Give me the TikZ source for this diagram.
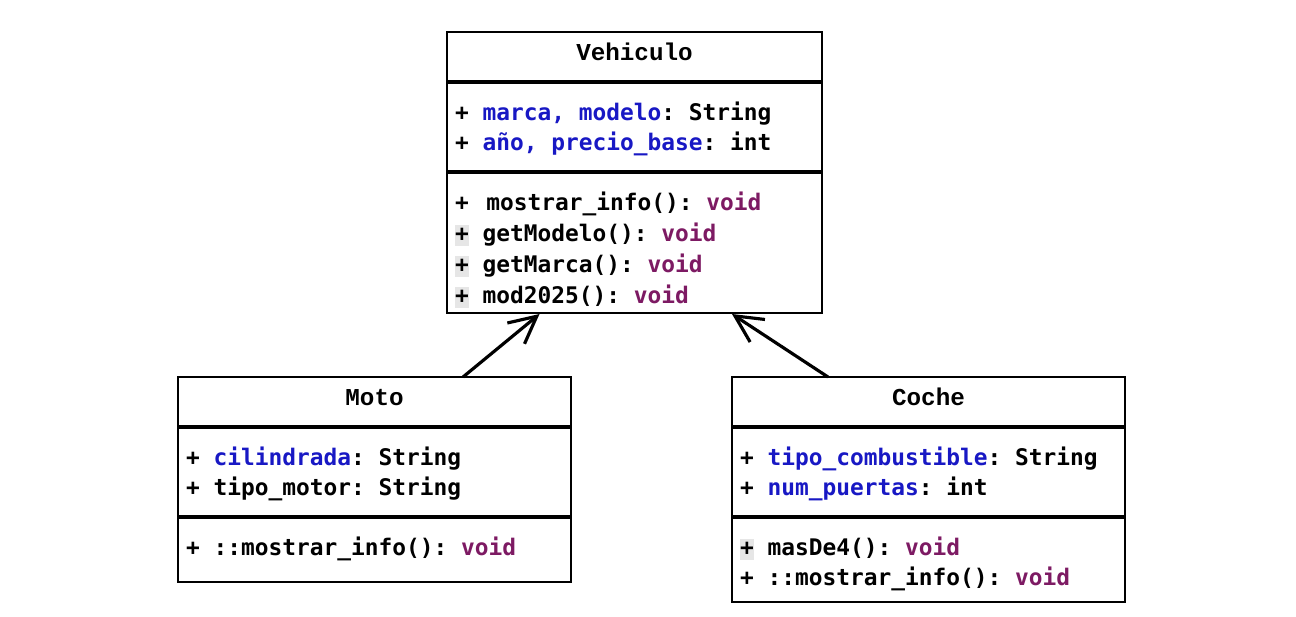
\documentclass[tikz,border=0pt]{standalone}
\usepackage{fontspec}
\setmonofont{DejaVu Sans Mono}
\newfontfamily\umlhead{Liberation Mono}
\usetikzlibrary{arrows.meta,positioning}
\definecolor{umlInk}{HTML}{000000}
\definecolor{umlBlue}{HTML}{1818C4}
\definecolor{umlVoid}{HTML}{7D1A63}
\definecolor{umlMark}{HTML}{E6E6E6}
\newcommand{\fld}[1]{\textcolor{umlBlue}{#1}}
\newcommand{\vd}{\textcolor{umlVoid}{void}}
\newcommand{\hplus}{{\setlength{\fboxsep}{0pt}\colorbox{umlMark}{\rule[-3pt]{0pt}{12pt}+}}}
% first line sits 0.76cm below the top of a compartment
\newcommand{\toprow}{\rule{0pt}{0.76cm}}
\newcommand{\lastrow}[1]{\rule[-#1]{0pt}{0pt}}

\begin{document}
\begin{tikzpicture}[
  head/.style={draw=umlInk,line width=1.1pt,outer sep=0pt,inner sep=0pt,
               minimum width=7.5cm,text height=0.56cm,text depth=0.44cm,
               font=\umlhead\bfseries\fontsize{13.8}{17}\selectfont},
  part/.style={draw=umlInk,line width=1.1pt,outer sep=0pt,inner xsep=0.16cm,inner ysep=0pt,
               text width=7.18cm,align=flush left,
               font=\ttfamily\bfseries\fontsize{13}{0.6cm}\selectfont,
               execute at begin node={\spaceskip=0.602em\relax}},
  wide/.style={minimum width=7.86cm},
  widepart/.style={text width=7.54cm},
  sep/.style={umlInk,line width=2pt},
  gen/.style={-{Straight Barb[length=5.4mm,width=5.4mm]},line width=1.8pt,umlInk}
]
\useasboundingbox (0,0) rectangle (25.92,-12.32);

% Vehiculo
\node[head,anchor=north] (veh) at (12.69,-0.64) {Vehiculo};
\node[part,below=0pt of veh] (vehAttr)
  {\toprow+ \fld{marca, modelo}: String\\+ \fld{año, precio\_base}: int\lastrow{0.44cm}};
\node[part,below=0pt of vehAttr,font=\ttfamily\bfseries\fontsize{13}{0.62cm}\selectfont] (vehMeth)
  {\toprow+ \,mostrar\_info(): \vd\\\hplus{} getModelo(): \vd\\\hplus{} getMarca(): \vd\\\hplus{} mod2025(): \vd\lastrow{0.2cm}};
\draw[sep] (vehAttr.north west) -- (vehAttr.north east);
\draw[sep] (vehMeth.north west) -- (vehMeth.north east);

% Moto
\node[head,wide,anchor=north] (moto) at (7.49,-7.54) {Moto};
\node[part,widepart,below=0pt of moto] (motoAttr)
  {\toprow+ \fld{cilindrada}: String\\+ tipo\_motor: String\lastrow{0.44cm}};
\node[part,widepart,below=0pt of motoAttr] (motoMeth)
  {\toprow+ ::mostrar\_info(): \vd\lastrow{0.54cm}};
\draw[sep] (motoAttr.north west) -- (motoAttr.north east);
\draw[sep] (motoMeth.north west) -- (motoMeth.north east);

% Coche
\node[head,wide,anchor=north] (coche) at (18.57,-7.54) {Coche};
\node[part,widepart,below=0pt of coche] (cocheAttr)
  {\toprow+ \fld{tipo\_combustible}: String\\+ \fld{num\_puertas}: int\lastrow{0.44cm}};
\node[part,widepart,below=0pt of cocheAttr] (cocheMeth)
  {\toprow\hplus{} masDe4(): \vd\\+ ::mostrar\_info(): \vd\lastrow{0.34cm}};
\draw[sep] (cocheAttr.north west) -- (cocheAttr.north east);
\draw[sep] (cocheMeth.north west) -- (cocheMeth.north east);

% herencia
\draw[gen] ([xshift=1.77cm]moto.north) -- ([xshift=-1.9cm,yshift=-0.02cm]vehMeth.south);
\draw[gen] ([xshift=-2.01cm]coche.north) -- ([xshift=1.95cm,yshift=-0.02cm]vehMeth.south);
\end{tikzpicture}
\end{document}
